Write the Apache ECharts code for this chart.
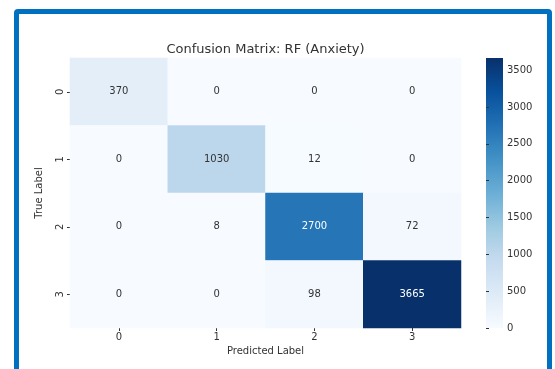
<!DOCTYPE html>
<html>
<head>
<meta charset="utf-8">
<script src="https://cdn.jsdelivr.net/npm/echarts@6/dist/echarts.min.js"></script>
<style>
  html, body { margin: 0; padding: 0; background: #fff; overflow: hidden; }
  .frame {
    position: absolute; left: 14px; top: 9px; width: 528px; height: 420px;
    border: 5px solid #0070c0; border-radius: 4px;
  }
  #chart { position: absolute; left: 0; top: 0; width: 555px; height: 369px; }
</style>
</head>
<body>
<div class="frame"></div>
<div id="chart"></div>
<script>
// confusion matrix, rows = true label, cols = predicted label
var predictedLabels = ['0', '1', '2', '3']
var trueLabels = ['0', '1', '2', '3']
var row0 = [370, 0, 0, 0]
var row1 = [0, 1030, 12, 0]
var row2 = [0, 8, 2700, 72]
var row3 = [0, 0, 98, 3665]
var matrix = [row0, row1, row2, row3]
var colorbarMax = 3665

var blues = ['#f7fbff', '#deebf7', '#c6dbef', '#9ecae1', '#6baed6',
             '#4292c6', '#2171b5', '#08519c', '#08306b']
var textColor = '#333'
var font = 'DejaVu Sans'

var cells = []
matrix.forEach(function (row, y) {
    row.forEach(function (v, x) {
        cells.push({
            value: [x, y, v],
            label: { color: v > colorbarMax / 2 ? '#fff' : textColor }
        })
    })
})

// colorbar gradient, bottom (0) -> top (max)
var barStops = blues.map(function (c, i) {
    return { offset: i / (blues.length - 1), color: c }
})

var chart = echarts.init(document.getElementById('chart'))
chart.setOption({
    animation: false,
    textStyle: { fontFamily: font },
    title: {
        text: 'Confusion Matrix: RF (Anxiety)',
        left: 265.5,
        textAlign: 'center',
        top: 43,
        padding: 0,
        textStyle: { fontSize: 13, fontWeight: 'normal', color: textColor, fontFamily: font }
    },
    grid: [
        { left: 70, right: 94, top: 58, bottom: 41 },
        { left: 486, width: 17, top: 58, height: 270 }
    ],
    graphic: [{
        type: 'rect',
        left: 486,
        top: 58,
        shape: { width: 17, height: 270 },
        style: { fill: new echarts.graphic.LinearGradient(0, 1, 0, 0, barStops) },
        silent: true
    }],
    xAxis: [
        {
            type: 'category',
            data: predictedLabels,
            name: 'Predicted Label',
            nameLocation: 'middle',
            nameGap: 18,
            nameTextStyle: { fontSize: 10, color: textColor },
            axisLine: { show: false },
            axisTick: { show: true, alignWithLabel: true, length: 3, lineStyle: { color: textColor } },
            axisLabel: { fontSize: 10, color: textColor, margin: 4 },
            splitArea: { show: false }
        },
        { gridIndex: 1, type: 'value', show: false }
    ],
    yAxis: [
        {
            type: 'category',
            data: trueLabels,
            inverse: true,
            name: 'True Label',
            nameLocation: 'middle',
            nameGap: 26,
            nameRotate: 90,
            nameTextStyle: { fontSize: 10, color: textColor },
            axisLine: { show: false },
            axisTick: { show: true, alignWithLabel: true, length: 3, lineStyle: { color: textColor } },
            axisLabel: { fontSize: 10, color: textColor, rotate: 90, margin: 5 }
        },
        {
            gridIndex: 1,
            type: 'value',
            position: 'right',
            min: 0,
            max: colorbarMax,
            interval: 500,
            axisLine: { show: false },
            axisTick: { show: true, length: 3, lineStyle: { color: textColor } },
            axisLabel: {
                fontSize: 10, color: textColor, margin: 4, showMaxLabel: false,
                formatter: function (v) { return String(v) }
            },
            splitLine: { show: false }
        }
    ],
    visualMap: {
        type: 'continuous',
        show: false,
        seriesIndex: 0,
        min: 0,
        max: colorbarMax,
        inRange: { color: blues }
    },
    series: [{
        type: 'heatmap',
        data: cells,
        label: { show: true, fontSize: 10, fontFamily: font },
        itemStyle: { borderWidth: 0 },
        emphasis: { disabled: true }
    }]
})
</script>
</body>
</html>
